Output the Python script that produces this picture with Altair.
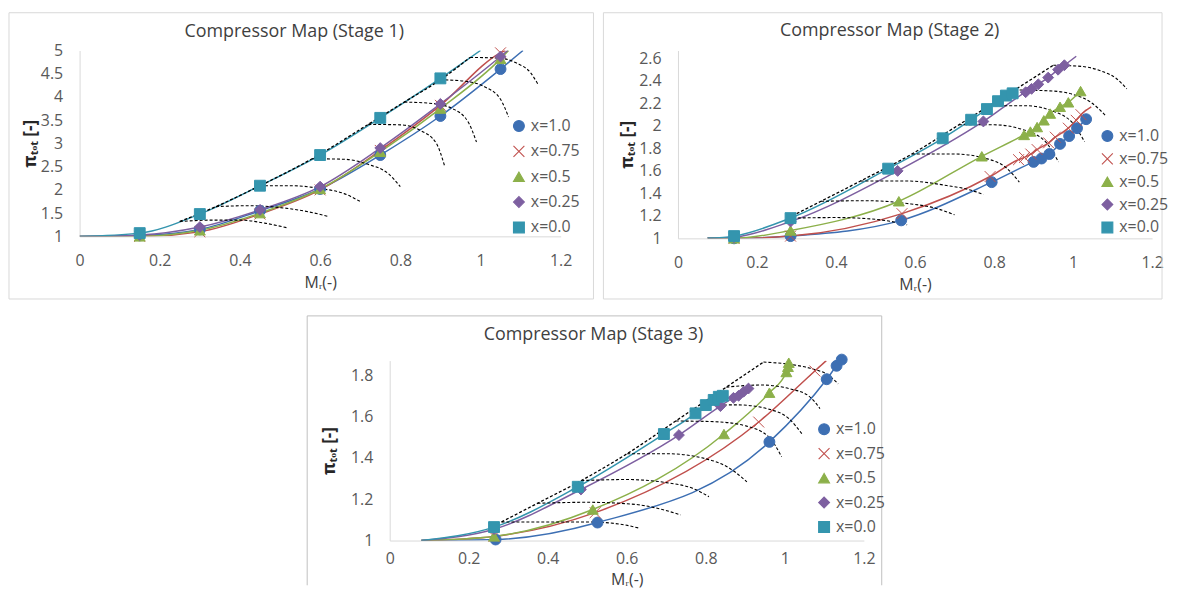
import altair as alt
import pandas as pd

SERIES = ["x=1.0", "x=0.75", "x=0.5", "x=0.25", "x=0.0"]
COLORS = ["#3D6FB3", "#C0504D", "#8CB04A", "#7D5FA0", "#3495AE"]
SHAPES = ["circle", "M-1,-1L1,1M-1,1L1,-1", "triangle-up", "diamond", "square"]
X_TICKS = [0, 0.2, 0.4, 0.6, 0.8, 1.0, 1.2]

# ---------------- Stage 1 ----------------
S1_MX = [
    [0.15, 0.30, 0.45, 0.60, 0.75, 0.90, 1.05],
    [0.15, 0.30, 0.45, 0.60, 0.75, 0.90, 1.05],
    [0.15, 0.30, 0.45, 0.60, 0.75, 0.90, 1.05],
    [0.15, 0.30, 0.45, 0.60, 0.75, 0.90, 1.05],
    [0.15, 0.30, 0.45, 0.60, 0.75, 0.90],
]
S1_MY = [
    [1.02, 1.15, 1.55, 2.02, 2.75, 3.59, 4.60],
    [1.00, 1.10, 1.48, 2.00, 2.85, 3.82, 4.95],
    [1.00, 1.13, 1.50, 2.02, 2.82, 3.75, 4.82],
    [1.03, 1.20, 1.57, 2.07, 2.90, 3.85, 4.87],
    [1.07, 1.48, 2.09, 2.75, 3.55, 4.40],
]
S1_START = [[0, 1], [0, 1], [0, 1], [0, 1], [0, 1]]
S1_END = [[1.106, 5.0], [1.062, 5.0], [1.07, 5.0], [1.068, 5.0], [1.0, 5.0]]
S1_SPEED_X = [
    [0.25, 0.33, 0.40, 0.465, 0.52],
    [0.34, 0.42, 0.50, 0.57, 0.62],
    [0.45, 0.53, 0.60, 0.66, 0.70],
    [0.58, 0.66, 0.72, 0.77, 0.80],
    [0.72, 0.80, 0.85, 0.89, 0.91],
    [0.81, 0.88, 0.93, 0.97, 0.99],
    [0.90, 0.96, 1.01, 1.05, 1.07],
    [0.974, 1.04, 1.09, 1.125, 1.143],
]
S1_SPEED_Y = [
    [1.32, 1.35, 1.35, 1.28, 1.18],
    [1.64, 1.66, 1.62, 1.53, 1.43],
    [2.09, 2.09, 2.03, 1.92, 1.75],
    [2.67, 2.66, 2.55, 2.35, 2.07],
    [3.41, 3.40, 3.28, 3.00, 2.53],
    [3.89, 3.86, 3.75, 3.45, 3.03],
    [4.37, 4.34, 4.22, 3.95, 3.57],
    [4.85, 4.84, 4.73, 4.52, 4.28],
]
S1_SURGE_X = [0.25, 0.34, 0.45, 0.58, 0.72, 0.81, 0.90, 0.974]
S1_SURGE_Y = [1.32, 1.64, 2.09, 2.67, 3.41, 3.89, 4.37, 4.85]
S1_Y_TICKS = [1, 1.5, 2, 2.5, 3, 3.5, 4, 4.5, 5]

# ---------------- Stage 2 ----------------
S2_MX = [
    [0.142, 0.285, 0.565, 0.794, 0.90, 0.92, 0.94, 0.967, 0.99, 1.01, 1.033],
    [0.142, 0.285, 0.567, 0.79, 0.862, 0.877, 0.893, 0.909, 0.938, 0.955, 0.988, 1.008, 1.02],
    [0.142, 0.285, 0.559, 0.769, 0.876, 0.892, 0.909, 0.926, 0.942, 0.967, 0.988, 1.019],
    [0.142, 0.285, 0.556, 0.773, 0.88, 0.895, 0.912, 0.937, 0.962, 0.978],
    [0.142, 0.285, 0.532, 0.67, 0.742, 0.782, 0.81, 0.83, 0.847],
]
S2_MY = [
    [1.00, 1.02, 1.16, 1.50, 1.68, 1.71, 1.75, 1.84, 1.91, 1.98, 2.06],
    [1.00, 1.02, 1.22, 1.55, 1.70, 1.72, 1.75, 1.79, 1.85, 1.90, 1.98, 2.05, 2.10],
    [1.00, 1.07, 1.33, 1.73, 1.92, 1.95, 1.99, 2.05, 2.11, 2.17, 2.21, 2.31],
    [1.01, 1.15, 1.60, 2.04, 2.30, 2.33, 2.37, 2.43, 2.50, 2.54],
    [1.02, 1.18, 1.62, 1.89, 2.055, 2.15, 2.22, 2.27, 2.29],
]
S2_START = [[0.075, 1.0], [0.075, 1.0], [0.075, 1.0], [0.075, 1.0], [0.075, 1.0]]
S2_END = [[1.04, 2.09], [1.046, 2.17], None, [1.008, 2.62], None]
S2_SPEED_X = [
    [0.278, 0.40, 0.48, 0.54, 0.58],
    [0.362, 0.48, 0.58, 0.65, 0.70],
    [0.462, 0.58, 0.68, 0.74, 0.773],
    [0.592, 0.70, 0.78, 0.83, 0.864],
    [0.711, 0.80, 0.87, 0.93, 0.963],
    [0.788, 0.88, 0.95, 1.00, 1.029],
    [0.852, 0.95, 1.00, 1.045, 1.083],
    [0.95, 1.02, 1.07, 1.11, 1.136],
]
S2_SPEED_Y = [
    [1.18, 1.185, 1.175, 1.15, 1.12],
    [1.33, 1.335, 1.31, 1.27, 1.21],
    [1.51, 1.51, 1.47, 1.43, 1.39],
    [1.75, 1.75, 1.71, 1.63, 1.50],
    [2.01, 2.01, 1.97, 1.86, 1.68],
    [2.18, 2.18, 2.13, 2.02, 1.86],
    [2.32, 2.31, 2.28, 2.21, 2.09],
    [2.54, 2.53, 2.49, 2.42, 2.33],
]
S2_SURGE_X = [0.278, 0.362, 0.462, 0.592, 0.711, 0.788, 0.852, 0.95]
S2_SURGE_Y = [1.18, 1.33, 1.51, 1.75, 2.01, 2.18, 2.32, 2.54]
S2_Y_TICKS = [1, 1.2, 1.4, 1.6, 1.8, 2, 2.2, 2.4, 2.6]

# ---------------- Stage 3 ----------------
S3_MX = [
    [0.268, 0.526, 0.961, 1.106, 1.131, 1.144],
    [0.264, 0.52, 0.934, 1.076],
    [0.264, 0.514, 0.846, 0.961, 1.004, 1.008, 1.01],
    [0.264, 0.484, 0.732, 0.837, 0.87, 0.883, 0.896, 0.908],
    [0.264, 0.476, 0.694, 0.774, 0.80, 0.82, 0.833, 0.843],
]
S3_MY = [
    [1.005, 1.087, 1.477, 1.78, 1.845, 1.875],
    [1.02, 1.135, 1.573, 1.82],
    [1.02, 1.15, 1.515, 1.715, 1.815, 1.84, 1.86],
    [1.055, 1.247, 1.51, 1.65, 1.69, 1.70, 1.72, 1.735],
    [1.065, 1.26, 1.515, 1.615, 1.655, 1.68, 1.695, 1.70],
]
S3_START = [[0.08, 1.0], [0.08, 1.0], [0.08, 1.0], [0.08, 1.0], [0.08, 1.0]]
S3_END = [None, [1.105, 1.87], None, None, None]
S3_SPEED_X = [
    [0.283, 0.40, 0.50, 0.58, 0.632],
    [0.374, 0.50, 0.62, 0.69, 0.736],
    [0.485, 0.60, 0.70, 0.77, 0.808],
    [0.601, 0.70, 0.79, 0.86, 0.904],
    [0.724, 0.82, 0.90, 0.96, 0.992],
    [0.783, 0.88, 0.96, 1.01, 1.043],
    [0.852, 0.94, 1.01, 1.06, 1.089],
    [0.946, 1.02, 1.07, 1.11, 1.135],
]
S3_SPEED_Y = [
    [1.09, 1.09, 1.09, 1.08, 1.06],
    [1.18, 1.185, 1.175, 1.15, 1.124],
    [1.29, 1.295, 1.28, 1.25, 1.212],
    [1.42, 1.42, 1.40, 1.35, 1.284],
    [1.578, 1.575, 1.555, 1.50, 1.405],
    [1.654, 1.656, 1.635, 1.59, 1.517],
    [1.742, 1.752, 1.735, 1.70, 1.638],
    [1.863, 1.85, 1.83, 1.80, 1.758],
]
S3_SURGE_X = [0.283, 0.374, 0.485, 0.601, 0.724, 0.783, 0.852, 0.946]
S3_SURGE_Y = [1.09, 1.18, 1.29, 1.42, 1.578, 1.654, 1.742, 1.863]
S3_Y_TICKS = [1, 1.2, 1.4, 1.6, 1.8]

FONT = "Open Sans"
LABEL_COLOR = "#595959"


def build_frames(mx, my, starts, ends):
    pts, lines = [], []
    for i, name in enumerate(SERIES):
        for j, (x, y) in enumerate(zip(mx[i], my[i])):
            pts.append({"series": name, "x": x, "y": y, "k": i * 100 + j})
        seq = [starts[i]] + [[x, y] for x, y in zip(mx[i], my[i])]
        if ends[i] is not None:
            seq.append(ends[i])
        for j, (x, y) in enumerate(seq):
            lines.append({"series": name, "x": x, "y": y, "j": j})
    return pd.DataFrame(pts), pd.DataFrame(lines)


def curve_frame(xs_list, ys_list):
    rows = []
    for i, (xs, ys) in enumerate(zip(xs_list, ys_list)):
        for j, (x, y) in enumerate(zip(xs, ys)):
            rows.append({"id": i, "x": x, "y": y, "j": j})
    return pd.DataFrame(rows)


def panel(title, mx, my, starts, ends, spx, spy, sgx, sgy, ydom, yticks,
          w, h, leg_x, leg_y, row_pad, title_xy, ytitle_x, xtitle_y, xlab_pad, frame,
          frame_color, open_bottom=False):
    pts, lines = build_frames(mx, my, starts, ends)
    speed = curve_frame(spx, spy)
    surge = curve_frame([sgx], [sgy])

    xs = alt.Scale(domain=[0, 1.2], nice=False, zero=False)
    ys = alt.Scale(domain=ydom, nice=False, zero=False)
    xaxis = alt.Axis(values=X_TICKS, format="~g", title="Mᵣ(-)", grid=False, ticks=False,
                     tickSize=0, domainColor="#D9D9D9", labelFontSize=16, labelColor=LABEL_COLOR,
                     labelFont=FONT, labelPadding=xlab_pad, labelFlush=False, labelOverlap=False,
                     titleFont=FONT, titleFontSize=16, titleColor="#404040",
                     titleFontWeight="normal", titleY=xtitle_y, titleBaseline="middle")
    yaxis = alt.Axis(values=yticks, format="~g", title="πₜₒₜ [-]", grid=False, ticks=False,
                     tickSize=0, domainColor="#D9D9D9", labelFontSize=16, labelColor=LABEL_COLOR,
                     labelFont=FONT, labelPadding=17, labelFlush=False, labelOverlap=False,
                     titleFont=FONT, titleFontSize=17, titleColor="#262626",
                     titleFontWeight="bold", titleX=ytitle_x, titleY=h / 2,
                     titleAlign="center", titleBaseline="middle")
    X = alt.X("x:Q", scale=xs, axis=xaxis)
    Y = alt.Y("y:Q", scale=ys, axis=yaxis)

    cscale = alt.Scale(domain=SERIES, range=COLORS)
    sscale = alt.Scale(domain=SERIES, range=SHAPES)
    leg = alt.Legend(orient="none", legendX=leg_x, legendY=leg_y, title=None,
                     labelFontSize=16, labelColor=LABEL_COLOR, labelFont=FONT,
                     symbolSize=120, symbolStrokeWidth=1.1, rowPadding=row_pad,
                     padding=0, labelOffset=4)

    fdf = pd.DataFrame({"t": [title]})
    x0, x1, y0, y1 = frame
    layers = []
    if open_bottom:
        layers.append(alt.Chart(fdf).mark_rule(color=frame_color, strokeWidth=1).encode(
            x=alt.value(x0), x2=alt.value(x1), y=alt.value(y0)))
        layers.append(alt.Chart(fdf).mark_rule(color=frame_color, strokeWidth=1).encode(
            x=alt.value(x0), y=alt.value(y0), y2=alt.value(y1)))
        layers.append(alt.Chart(fdf).mark_rule(color=frame_color, strokeWidth=1).encode(
            x=alt.value(x1), y=alt.value(y0), y2=alt.value(y1)))
    else:
        layers.append(alt.Chart(fdf).mark_rect(filled=False, color=frame_color, strokeWidth=1).encode(
            x=alt.value(x0), x2=alt.value(x1), y=alt.value(y0), y2=alt.value(y1)))
    layers.append(alt.Chart(fdf).mark_text(font=FONT, fontSize=18, color="#404040",
                                           align="center", baseline="middle").encode(
        x=alt.value(title_xy[0]), y=alt.value(title_xy[1]), text="t:N"))

    layers.append(alt.Chart(lines).mark_line(interpolate="monotone", strokeWidth=1.5, clip=True).encode(
        x=X, y=Y, stroke=alt.Stroke("series:N", scale=cscale, legend=leg), order=alt.Order("j:Q")))
    layers.append(alt.Chart(speed).mark_line(interpolate="monotone", color="black", strokeWidth=1.1,
                                             strokeDash=[3, 2]).encode(
        x=X, y=Y, detail="id:N", order=alt.Order("j:Q")))
    layers.append(alt.Chart(surge).mark_line(interpolate="monotone", color="black", strokeWidth=1.3,
                                             strokeDash=[3, 2]).encode(
        x=X, y=Y, order=alt.Order("j:Q")))
    layers.append(alt.Chart(pts).mark_point(filled=True, size=120, opacity=1, strokeWidth=1).encode(
        x=X, y=Y,
        color=alt.Color("series:N", scale=cscale, legend=leg),
        shape=alt.Shape("series:N", scale=sscale, legend=leg),
        stroke=alt.Stroke("series:N", scale=cscale, legend=leg),
        order=alt.Order("k:Q")))
    return alt.layer(*layers).properties(width=w, height=h)


p1 = panel("Compressor Map (Stage 1)", S1_MX, S1_MY, S1_START, S1_END, S1_SPEED_X, S1_SPEED_Y,
           S1_SURGE_X, S1_SURGE_Y, [1, 5], S1_Y_TICKS, 484, 187, 434, 68, 9.5, (216, -19), -49, 46, 16,
           (-71, 517, -38, 250), "#D9D9D9")
p2 = panel("Compressor Map (Stage 2)", S2_MX, S2_MY, S2_START, S2_END, S2_SPEED_X, S2_SPEED_Y,
           S2_SURGE_X, S2_SURGE_Y, [1, 2.671], S2_Y_TICKS, 477, 189, 424, 78, 7, (213, -20), -51, 46, 16,
           (-75, 487, -38, 250), "#D9D9D9")
p3 = panel("Compressor Map (Stage 3)", S3_MX, S3_MY, S3_START, S3_END, S3_SPEED_X, S3_SPEED_Y,
           S3_SURGE_X, S3_SURGE_Y, [1, 1.87], S3_Y_TICKS, 477, 181, 429, 61, 8.6, (205, -26), -61, 39, 10,
           (-83, 495, -45, 226), "#BFBFBF", open_bottom=True)

# blank white block that only reserves the space to the left of the third panel
spacer = alt.Chart(pd.DataFrame({"v": [0]})).mark_rect(color="white").encode(
    x=alt.value(0), x2=alt.value(200), y=alt.value(0), y2=alt.value(20)
).properties(width=200, height=20)

RES = dict(color="independent", shape="independent", stroke="independent")
row1 = alt.hconcat(p1, p2, spacing=118, bounds="flush").resolve_scale(**RES).resolve_legend(**RES)
row2 = alt.hconcat(spacer, p3, spacing=112, bounds="flush").resolve_scale(**RES).resolve_legend(**RES)
chart = alt.vconcat(row1, row2, spacing=15).resolve_scale(**RES).resolve_legend(**RES)
chart = chart.properties(
    padding={"left": 0, "top": 2, "right": 0, "bottom": 0}, background="white"
).configure_view(strokeWidth=0)

chart.save("out.html", embed_options={"renderer": "svg", "actions": False})
